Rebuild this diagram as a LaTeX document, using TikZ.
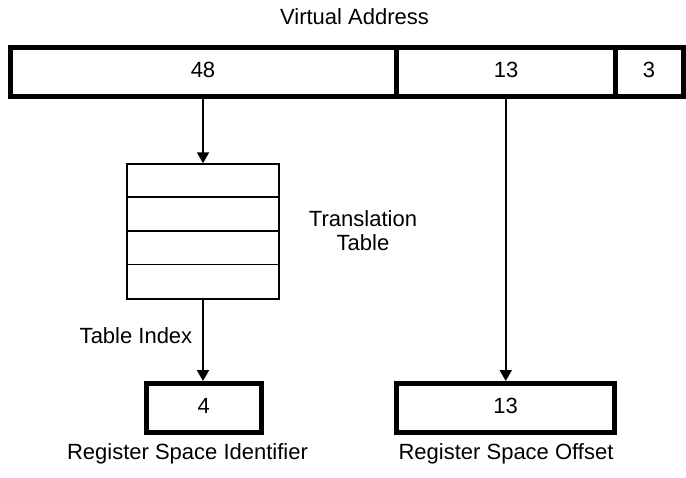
\documentclass[tikz,border=0pt]{standalone}
\usepackage{fontspec}
\setmainfont{Liberation Sans}
\usetikzlibrary{arrows.meta}

\tikzset{
  txt/.style={font=\fontsize{22}{26.4}\selectfont, inner sep=0pt, anchor=base},
  field/.style={draw, line width=5pt, rectangle, inner sep=0pt},
  tablebox/.style={draw, line width=1.5pt, rectangle, inner sep=0pt},
  arr/.style={line width=2pt, -{Triangle[length=11pt,width=12pt]}}
}

\begin{document}
\begin{tikzpicture}[x=1pt, y=-1pt]
  \useasboundingbox (0,0) rectangle (686,477);

  % address fields
  \node[field, minimum width=386pt, minimum height=48.5pt] (f48) at (203,71.75) {};
  \node[field, minimum width=219.5pt, minimum height=48.5pt] (f13) at (505.75,71.75) {};
  \node[field, minimum width=68pt, minimum height=48.5pt] (f3) at (649.5,71.75) {};
  \node[txt] (t48) at (203,77) {48};
  \node[txt] (t13) at (506,77) {13};
  \node[txt] (t3) at (649,77) {3};
  \node[txt] (va) at (354.5,24) {Virtual Address};

  % translation table with four entries
  \node[tablebox, minimum width=152pt, minimum height=135pt] (tbl) at (203,231.5) {};
  \foreach \k in {1,2,3}
    \draw[line width=1.5pt] ([yshift=-33.75*\k pt]tbl.north west) -- ([yshift=-33.75*\k pt]tbl.north east);
  \node[txt, align=center] (tt) at (363,226) {Translation};
  \node[txt] (tt2) at (363,250) {Table};

  % result fields
  \node[field, minimum width=115.5pt, minimum height=49pt] (rid) at (203.75,408) {};
  \node[txt] (t4) at (203.75,413) {4};
  \node[field, minimum width=218pt, minimum height=49pt] (roff) at (505.5,408) {};
  \node[txt] (t13b) at (505.5,413) {13};
  \node[txt] (lid) at (187.5,459) {Register Space Identifier};
  \node[txt] (loff) at (506,459) {Register Space Offset};
  \node[txt] (ti) at (136,343) {Table Index};

  % connectors
  \draw[arr] (f48.south) -- (tbl.north);
  \draw[arr] (tbl.south) -- (tbl.south |- rid.north);
  \draw[arr] (f13.south) -- (f13.south |- roff.north);
\end{tikzpicture}
\end{document}
